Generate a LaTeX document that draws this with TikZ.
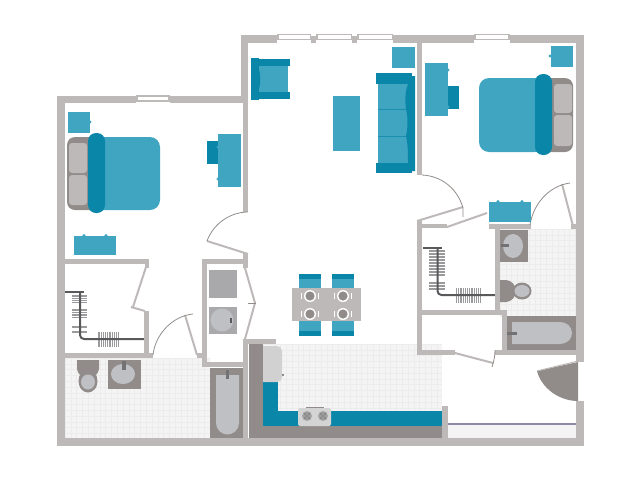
\documentclass[tikz,border=0pt]{standalone}
\definecolor{wallc}{HTML}{BDB9B8}
\definecolor{darkg}{HTML}{918C8A}
\definecolor{fixt}{HTML}{BFC0C4}
\definecolor{tealL}{HTML}{3FA5C0}
\definecolor{tealD}{HTML}{0A86A9}
\definecolor{tile}{HTML}{F4F4F4}
\definecolor{tileL}{HTML}{ECECEC}
\definecolor{rodc}{HTML}{59585A}
\definecolor{hang}{HTML}{9A9A9C}
\definecolor{appl}{HTML}{A9A9AC}
\tikzset{
 wall/.style={fill=wallc},
 leaf/.style={draw=wallc,line width=2pt},
 swing/.style={draw=darkg,line width=.8pt},
 tl/.style={fill=tealL},
 td/.style={fill=tealD},
 dk/.style={fill=darkg},
 fx/.style={fill=fixt},
 win/.style={fill=white,draw=wallc,line width=1.7pt},
 rod/.style={draw=rodc,line width=2pt},
 hgr/.style={draw=hang,line width=1.2pt},
 gridl/.style={draw=tileL,line width=.3pt},
}
\begin{document}
\begin{tikzpicture}[x=1pt,y=-1pt]
\useasboundingbox (0,0) rectangle (640,480);
% tiles
\fill[tile] (65,358) rectangle (210,438);
\begin{scope}\clip (65,358) rectangle (210,438);
\foreach \i in {0,...,25}{\draw[gridl] (65+\i*5.8,358)--(65+\i*5.8,438);}
\foreach \i in {0,...,14}{\draw[gridl] (65,358+\i*5.8)--(210,358+\i*5.8);}
\end{scope}
\fill[tile] (500,229) rectangle (576,316);
\begin{scope}\clip (500,229) rectangle (576,316);
\foreach \i in {0,...,14}{\draw[gridl] (500+\i*5.8,229)--(500+\i*5.8,316);}
\foreach \i in {0,...,15}{\draw[gridl] (500,229+\i*5.8)--(576,229+\i*5.8);}
\end{scope}
\fill[tile] (263,344) rectangle (442,411);
\begin{scope}\clip (263,344) rectangle (442,411);
\foreach \i in {0,...,31}{\draw[gridl] (263+\i*5.8,344)--(263+\i*5.8,411);}
\foreach \i in {0,...,12}{\draw[gridl] (263,344+\i*5.8)--(442,344+\i*5.8);}
\end{scope}
\fill[tile] (448,424) rectangle (576,438);
\fill[hang!90!blue] (448,423) rectangle (576,425);
% kitchen counter
\fill[dk] (249,344) rectangle (263,438);
\fill[dk] (249,426) rectangle (442,438);
\fill[tealD] (263,382) rectangle (278,426);
\fill[tealD] (263,411) rectangle (442,426);
\fill[fill=black!18] (263,346) -- (277,346) .. controls (280,346) and (282,348) .. (282,351) -- (282,377) .. controls (282,380) and (280,382) .. (277,382) -- (263,382) -- cycle;
\fill[darkg] (282,374) rectangle (283.5,376);
\fill[fill=black!17,rounded corners=2pt] (298,408) rectangle (331,426);
\draw[darkg,line width=.5pt] (306,407)--(324,407);
\foreach \x in {307,323}{\fill[black!35] (\x,416) circle (5);\draw[black!50,line width=.4pt] (\x,416) circle (3.2) (\x-3,413)--(\x+3,419) (\x+3,413)--(\x-3,419);}
% fixtures left bath
\fill[dk] (210,368) rectangle (243,438);
\fill[fx] (216,375) -- (239,375) -- (239,423) .. controls (239,430) and (233,434.5) .. (227.5,434.5) .. controls (222,434.5) and (216,430) .. (216,423) -- cycle;
\fill[rodc!85] (226,370) rectangle (229,379);
\fill[dk] (77,360) -- (99,360) -- (99,369) .. controls (99,372) and (97,373) .. (96,375) -- (96,388) -- (80,388) -- (80,375) .. controls (79,373) and (77,372) .. (77,369) -- cycle;
\fill[dk] (88,381) ellipse (9.5 and 11.5);
\fill[fx] (88,382) ellipse (7 and 7.5);
\fill[dk] (108,360) rectangle (141,389);
\fill[fx] (123,374) ellipse (12 and 10);
\fill[rodc!85] (122,361) rectangle (126,370);
% fixtures right bath
\fill[dk] (507,316) rectangle (576,350);
\fill[fx] (512,322) -- (560,322) .. controls (567,322) and (572,327) .. (572,333) .. controls (572,339) and (567,344) .. (560,344) -- (512,344) -- cycle;
\fill[rodc!85] (507,332) rectangle (517,335);
\fill[dk] (500,230) rectangle (528,262);
\fill[fx] (513,246) ellipse (10 and 12);
\fill[rodc!85] (501,244) rectangle (509,247);
\fill[dk] (522,291) ellipse (9.5 and 8.5);
\fill[dk,rounded corners=4pt] (495,280) -- (510,280) -- (516,287) -- (516,295) -- (510,302) -- (495,302) -- cycle;
\fill[fx] (522,291) ellipse (7.5 and 6);
% closet rods left
\foreach \y in {296,298.2,300.4,302.6,310,312.5,315,317.5,327,332}{\draw[hgr] (72,\y)--(87,\y);}
\foreach \x in {0,...,9}{\draw[hgr] (99+\x*2.2,332)--(99+\x*2.2,347);}
\draw[rod] (65,292)--(84,292);
\draw[rod,rounded corners=4pt] (80,292) -- (80,339) -- (144,339);
% closet rods right
\foreach \y in {251,254,257,260,263,266,269,272,275,283,286,289}{\draw[hgr] (429,\y)--(445,\y);}
\foreach \x in {0,...,11}{\draw[hgr] (456.5+\x*2.2,288)--(456.5+\x*2.2,303);}
\draw[rod] (423,248)--(442,248);
\draw[rod,rounded corners=4pt] (437.5,248) -- (437.5,295) -- (495,295);
% laundry
\fill[appl] (209,270) rectangle (237,298);
\fill[appl] (209,307) rectangle (237,334);
\fill[fx] (222,320) circle (11.5);
\fill[rodc] (230,318) rectangle (232,323);
% outer walls
\fill[wall] (57,96) rectangle (136,103);
\fill[wall] (170,96) rectangle (246,103);
\fill[wall] (57,96) rectangle (65,446);
\fill[wall] (57,438) rectangle (584,446);
\fill[wall] (241,35) rectangle (248,103);
\fill[wall] (243,103) rectangle (248,212);
\fill[wall] (241,35) rectangle (277,43);
\fill[wall] (311,36) rectangle (316,43);
\fill[wall] (352,36) rectangle (357,43);
\fill[wall] (393,35) rectangle (474,43);
\fill[wall] (510,35) rectangle (584,43);
\fill[wall] (576,35) rectangle (584,362);
\fill[wall] (576,401) rectangle (584,446);
\fill[wall] (417,43) rectangle (422,175);
\draw[win] (137,96) rectangle (169,101);
\draw[win] (278,34.5) rectangle (310.5,39.5);
\draw[win] (317,34.5) rectangle (351.5,39.5);
\draw[win] (358,34.5) rectangle (392.5,39.5);
\draw[win] (475,34.5) rectangle (509,39.5);
% left closet & bath walls
\fill[wall] (65,259) rectangle (149,264);
\fill[wall] (145,264) rectangle (149,268);
\fill[wall] (144,311) rectangle (149,355);
\fill[wall] (65,353) rectangle (153,358);
\fill[wall] (197,353) rectangle (203,358);
\fill[wall] (202,259) rectangle (207,367);
\fill[wall] (202,259) rectangle (248,264);
\fill[wall] (202,362) rectangle (243,367);
\fill[wall] (243,253) rectangle (248,268);
\fill[wall] (243,339) rectangle (248,446);
\fill[wall] (243,339) rectangle (276,344);
% right closet walls
\fill[wall] (417,220) rectangle (422,355);
\fill[wall] (417,224) rectangle (447,228);
\fill[wall] (489,224) rectangle (531,229);
\fill[wall] (495,229) rectangle (500,310);
\fill[wall] (422,310) rectangle (507,315);
\fill[wall] (502,315) rectangle (507,350);
\fill[wall] (417,350) rectangle (455,355);
\fill[wall] (495,350) rectangle (584,355);
\fill[wall] (571,224) rectangle (576,229);
\fill[wall] (442,406) rectangle (448,446);
% door leaves
\draw[leaf] (207,241)--(248,254);
\draw[leaf] (146,267)--(133,307);
\draw[leaf] (131,307)--(145,311);
\draw[leaf] (185,315)--(197,355);
\draw[leaf] (245,268)--(255,303)--(245,339);
\draw[darkg,line width=.6pt] (248,303)--(256,303);
\draw[leaf] (417,221)--(463,207);
\draw[leaf] (447,227)--(487,213);
\draw[leaf] (562,184)--(573,226);
\draw[leaf] (455,353)--(493,363);
\draw[swing] (248,212) .. controls (232,212) and (214,222) .. (207,241);
\draw[swing] (153,355) .. controls (155,335) and (172,316) .. (193,314);
\draw[swing] (422,175) .. controls (443,176) and (458,190) .. (463,208) -- (463,217);
\draw[swing] (530,225) .. controls (533,205) and (548,186) .. (570,183);
\draw[swing] (495,350) .. controls (495,356) and (494,361) .. (492,367);
% front door
\fill[dk] (537,371) .. controls (541,387) and (558,401) .. (578,401) -- (578,362) -- cycle;
\draw[wallc,line width=1pt] (537,371)--(578,361);
% left bedroom
\fill[tealL] (90,122) circle (1.6);
\fill[tl] (68,112) rectangle (90,133);
\fill[dk,rounded corners=8pt] (67,137) rectangle (110,210);
\fill[fill=wallc,rounded corners=3pt] (69,143) rectangle (87,173);
\fill[fill=wallc,rounded corners=3pt] (69,175) rectangle (87,205);
\fill[tl,rounded corners=10pt] (92,137) rectangle (160,210);
\fill[td,rounded corners=8pt] (88,133) rectangle (105,213);
\fill[td] (207,141) rectangle (218,164);
\foreach \y in {147,179}{\fill[tealL] (218,\y) circle (1.6);}
\fill[tl] (218,134) rectangle (241,187);
\foreach \x in {84,106}{\fill[tealL] (\x,235.5) circle (1.6);}
\fill[tl] (74,236) rectangle (116,255);
% right bedroom
\fill[tealL] (550,56) circle (1.6);
\fill[tl] (551,46) rectangle (573,67);
\fill[dk,rounded corners=8pt] (530,78) rectangle (573,152);
\fill[fill=wallc,rounded corners=3pt] (554,84) rectangle (572,113);
\fill[fill=wallc,rounded corners=3pt] (554,115) rectangle (572,146);
\fill[tl,rounded corners=10pt] (479,78) rectangle (545,152);
\fill[td,rounded corners=8pt] (535,74) rectangle (552,155);
\fill[td] (448,86) rectangle (459,109);
\foreach \y in {70,107}{\fill[tealL] (448,\y) circle (1.6);}
\fill[tl] (425,63) rectangle (448,116);
\foreach \x in {498,522}{\fill[tealL] (\x,201.5) circle (1.6);}
\fill[tl] (489,202) rectangle (531,222);
% living room
\fill[tl] (259,66) rectangle (288,92);
\fill[td] (251,58) rectangle (259,100);
\fill[td] (251,59) rectangle (290,66);
\fill[td] (251,92) rectangle (290,99);
\fill[td] (258,66) .. controls (261,74) and (261,84) .. (258,92) -- cycle;
\fill[tl] (333,96) rectangle (360,151);
\fill[tl] (392,47) rectangle (415,68);
\fill[tl] (378,83) rectangle (409,163);
\fill[td] (376,73) rectangle (412,84);
\fill[td] (376,163) rectangle (412,173);
\fill[td] (408,84) .. controls (405,92) and (405,100) .. (406,109) .. controls (408,118) and (408,127) .. (406,136) .. controls (408,145) and (408,153) .. (408,163) -- (408,171) -- (415,171) -- (415,76) -- (408,76) -- cycle;
\draw[tealD!70!tealL,line width=.5pt] (378,109)--(406,109) (378,136)--(406,136);
% dining
\fill[tl] (299,274) rectangle (321,288);
\fill[tl] (332,274) rectangle (354,288);
\fill[tl] (299,321) rectangle (321,336);
\fill[tl] (332,321) rectangle (354,336);
\fill[td] (299,274) rectangle (321,279);
\fill[td] (332,274) rectangle (354,279);
\fill[td] (299,331) rectangle (321,336);
\fill[td] (332,331) rectangle (354,336);
\fill[wall] (292,288) rectangle (361,321);
\foreach \x in {310,343}{\foreach \y in {296,314}{
 \fill[white] (\x,\y) circle (6);\fill[darkg] (\x,\y) circle (4.6);
 \draw[white,line width=.4pt] (\x-8.5,\y-3)--(\x-8.5,\y+3) (\x+8.5,\y-3)--(\x+8.5,\y+3);}}
\end{tikzpicture}
\end{document}
